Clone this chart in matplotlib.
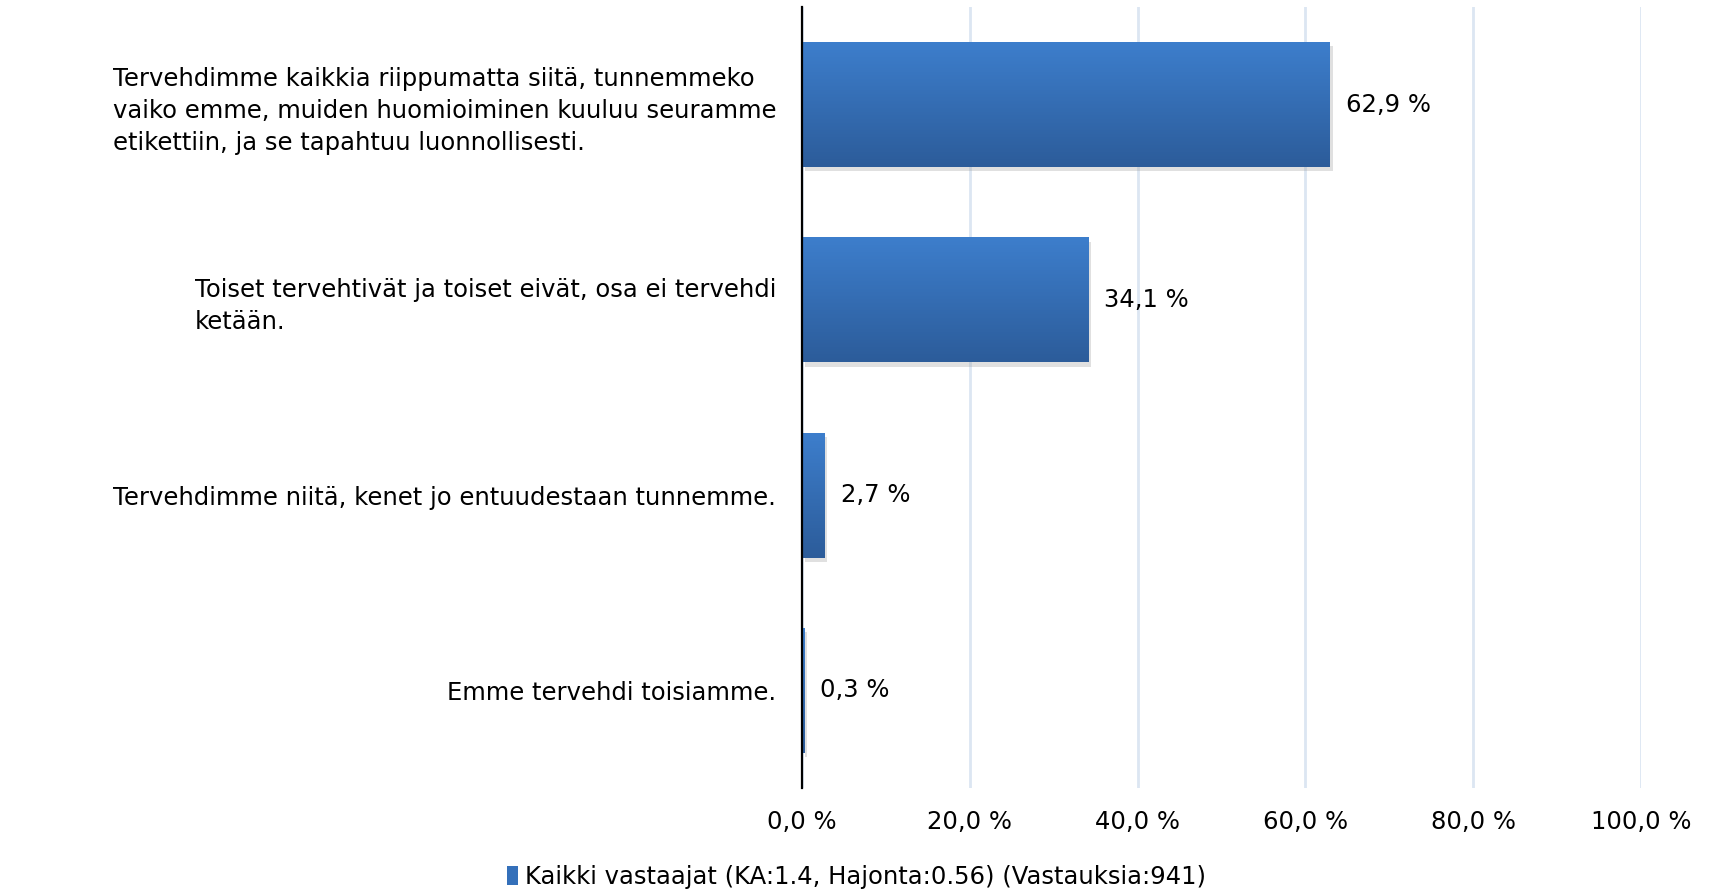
import numpy as np
import matplotlib
matplotlib.use("Agg")
import matplotlib.pyplot as plt
from matplotlib import patheffects as pe
from matplotlib.colors import LinearSegmentedColormap
from matplotlib.patches import Rectangle

categories = [
    "Tervehdimme kaikkia riippumatta siitä, tunnemmeko\nvaiko emme, muiden huomioiminen kuuluu seuramme\netikettiin, ja se tapahtuu luonnollisesti.",
    "Toiset tervehtivät ja toiset eivät, osa ei tervehdi\nketään.",
    "Tervehdimme niitä, kenet jo entuudestaan tunnemme.",
    "Emme tervehdi toisiamme.",
]
values = [62.9, 34.1, 2.7, 0.3]
value_labels = ["62,9 %", "34,1 %", "2,7 %", "0,3 %"]
xticks = [0, 20, 40, 60, 80, 100]
xtick_labels = ["0,0 %", "20,0 %", "40,0 %", "60,0 %", "80,0 %", "100,0 %"]
legend_label = "Kaikki vastaajat (KA:1.4, Hajonta:0.56) (Vastauksia:941)"

FONT = "DejaVu Sans"
FS = 17.5
plt.rcParams["font.family"] = [FONT]

fig = plt.figure(figsize=(17.13, 8.89), dpi=100)
ax = fig.add_axes([802/1713, 1-788/889, (1641-802)/1713, (788-7)/889])

top_c = "#3D7ECC"
bot_c = "#2C5C9A"
cmap = LinearSegmentedColormap.from_list("g", [top_c, bot_c])
grad = np.linspace(0, 1, 256).reshape(-1, 1)

h = 0.64
ypos = np.arange(len(categories))
bars = ax.barh(ypos, values, height=h, color="#3470BA", zorder=2,
               path_effects=[pe.SimplePatchShadow(offset=(2, -3), shadow_rgbFace="#999999", alpha=0.3), pe.Normal()])
for b in bars:
    x0, y0 = b.get_x(), b.get_y()
    w, hh = b.get_width(), b.get_height()
    im = ax.imshow(grad, cmap=cmap, aspect="auto", extent=[x0, x0 + w, y0 + hh, y0],
                   origin="upper", zorder=3, interpolation="bilinear")
    im.set_clip_path(b)

for v, lab, y in zip(values, value_labels, ypos):
    ax.annotate(lab, xy=(v, y), xytext=(11.5, 0), textcoords="offset points",
                ha="left", va="center", fontsize=FS, color="#000000")

ax.set_xlim(0, 100)
ax.set_ylim(len(categories) - 0.5, -0.5)
ax.set_xticks(xticks)
ax.set_xticklabels(xtick_labels, fontsize=FS)
ax.set_yticks(ypos)
ax.set_yticklabels(categories, fontsize=FS)
for t in ax.get_yticklabels():
    t.set_multialignment("left")
    t.set_linespacing(1.42)
ax.tick_params(axis="y", length=0, pad=18.7)
ax.tick_params(axis="x", length=0, pad=16)

ax.grid(axis="x", color="#DCE6F2", linewidth=2, zorder=0)
ax.set_axisbelow(True)
for s in ["top", "right", "bottom"]:
    ax.spines[s].set_visible(False)
ax.spines["left"].set_linewidth(1.6)
ax.spines["left"].set_color("#000000")
ax.spines["left"].set_zorder(5)

handle = Rectangle((0, 0), 1, 1, facecolor="#3470BA")
fig.legend([handle], [legend_label], loc="center", bbox_to_anchor=(0.5, 1-877/889),
           frameon=False, fontsize=FS, handlelength=0.45, handleheight=0.8, handletextpad=0.25)

fig.savefig("out.png", dpi=100)
